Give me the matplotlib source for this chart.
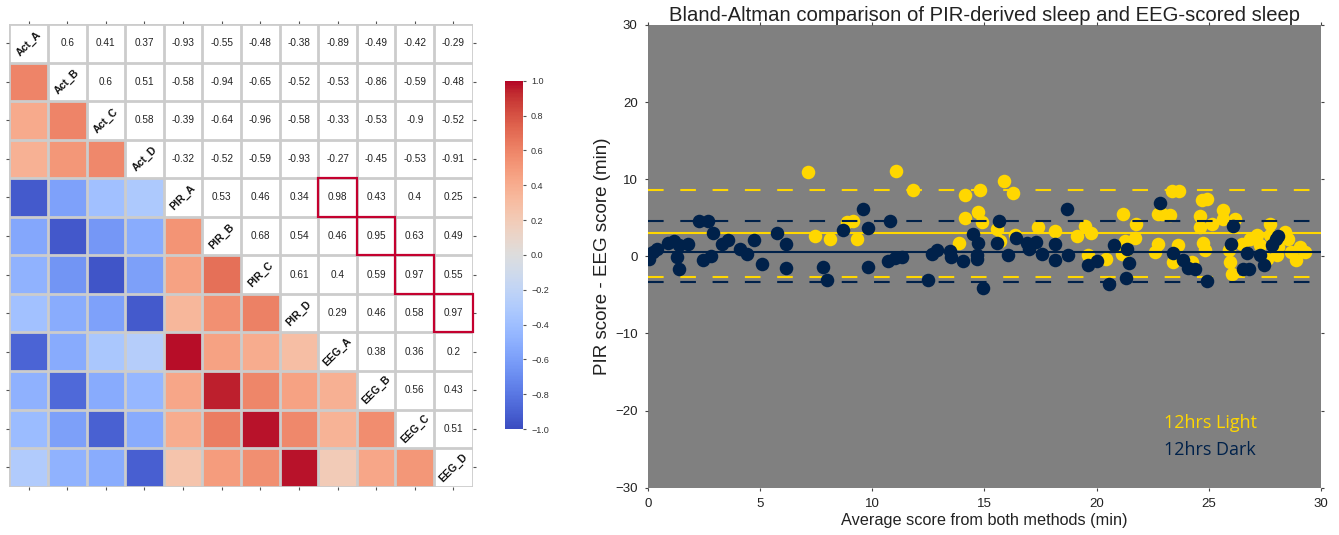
import numpy as np
import matplotlib
matplotlib.use("Agg")
import matplotlib.pyplot as plt
from matplotlib.patches import Rectangle

plt.rcParams['font.family'] = ['Liberation Sans', 'DejaVu Sans']

# ---------------- data: correlation matrix ----------------
labels = ["Act_A", "Act_B", "Act_C", "Act_D", "PIR_A", "PIR_B", "PIR_C", "PIR_D",
          "EEG_A", "EEG_B", "EEG_C", "EEG_D"]
# upper-triangle values per row (columns to the right of the diagonal)
upper_act_a = [0.6, 0.41, 0.37, -0.93, -0.55, -0.48, -0.38, -0.89, -0.49, -0.42, -0.29]
upper_act_b = [0.6, 0.51, -0.58, -0.94, -0.65, -0.52, -0.53, -0.86, -0.59, -0.48]
upper_act_c = [0.58, -0.39, -0.64, -0.96, -0.58, -0.33, -0.53, -0.9, -0.52]
upper_act_d = [-0.32, -0.52, -0.59, -0.93, -0.27, -0.45, -0.53, -0.91]
upper_pir_a = [0.53, 0.46, 0.34, 0.98, 0.43, 0.4, 0.25]
upper_pir_b = [0.68, 0.54, 0.46, 0.95, 0.63, 0.49]
upper_pir_c = [0.61, 0.4, 0.59, 0.97, 0.55]
upper_pir_d = [0.29, 0.46, 0.58, 0.97]
upper_eeg_a = [0.38, 0.36, 0.2]
upper_eeg_b = [0.56, 0.43]
upper_eeg_c = [0.51]
upper_rows = [upper_act_a, upper_act_b, upper_act_c, upper_act_d, upper_pir_a, upper_pir_b,
              upper_pir_c, upper_pir_d, upper_eeg_a, upper_eeg_b, upper_eeg_c, []]
highlight_pairs = [("PIR_A", "EEG_A"), ("PIR_B", "EEG_B"), ("PIR_C", "EEG_C"), ("PIR_D", "EEG_D")]
cbar_ticks = [-1.0, -0.8, -0.6, -0.4, -0.2, 0.0, 0.2, 0.4, 0.6, 0.8, 1.0]

# ---------------- data: Bland-Altman ----------------
light_x = [7.15, 7.45, 8.11, 8.86, 9.15, 9.30, 11.06, 11.83, 13.88, 14.13, 14.13, 14.73, 14.8,
           14.88, 15.57, 15.69, 15.89, 16.29, 16.36, 17.4, 18.15, 19.14, 19.48, 19.73, 19.63,
           20.42, 21.16, 21.76, 21.71, 21.27, 21.12, 22.75, 22.75, 22.6, 23.35, 23.65, 24.69,
           24.91, 22.9, 23.27, 24.6, 24.6, 25.13, 25.65, 25.62, 26.17, 27.73, 27.14, 28.4,
           23.64, 24.76, 24.83, 23.4, 24.24, 25.95, 26.02, 25.9, 26.46, 26.84, 27.29, 27.58,
           27.73, 28.09, 28.53, 28.68, 29.05, 28.9, 29.28, 28.03, 21.3]
light_y = [10.95, 2.6, 2.2, 4.46, 4.63, 2.2, 11.08, 8.6, 1.78, 7.92, 4.98, 5.76, 8.6,
           4.46, 3.5, 1.95, 9.78, 8.27, 2.73, 3.81, 3.25, 2.6, 3.94, 3.07, 0.22,
           -0.3, 5.54, 4.24, 2.43, 1.99, 0.35, 5.54, 1.65, 0.56, 8.45, 8.45, 7.27,
           7.49, 5.5, 5.41, 5.24, 3.81, 4.24, 5.97, 4.89, 4.89, 4.24, 2.73, 3.16,
           1.43, 1.78, 0.78, -0.74, -0.74, -0.74, -2.25, 0.78, 1.65, 2.3, 1.43, -0.3,
           2.73, 1.21, 2.3, 0.56, 1.21, -0.52, 0.56, 0.13, 0.8]
dark_x = [0.0, 0.05, 0.21, 0.42, 0.91, 1.16, 1.40, 1.31, 1.40, 1.80, 2.29, 2.66, 2.91, 2.47,
          2.81, 3.28, 3.58, 4.10, 4.43, 4.73, 5.07, 5.74, 6.14, 6.14, 7.82, 7.97, 8.71, 9.57,
          9.82, 9.82, 10.79, 10.71, 11.01, 11.31, 12.5, 12.65, 12.9, 13.46, 13.5, 14.06,
          14.47, 14.65, 14.65, 14.73, 14.95, 15.65, 15.55, 16.06, 16.41, 16.88, 17.0, 17.3,
          17.55, 18.15, 18.15, 18.69, 18.74, 19.63, 20.03, 20.57, 20.78, 21.34, 21.46, 21.31,
          22.83, 23.39, 23.87, 24.09, 24.39, 24.9, 25.97, 26.07, 26.54, 26.81, 26.72, 27.26,
          27.46, 27.8, 28.0, 28.1]
dark_y = [0.25, -0.3, 0.56, 1.0, 1.78, 1.95, 1.43, -0.09, -1.6, 1.56, 4.58, 4.58, 3.07, -0.43,
          0.0, 1.56, 2.08, 1.0, 0.35, 2.08, -0.95, 3.07, 1.6, -1.47, -1.43, -3.12, 3.38, 6.1,
          3.68, -1.38, 4.58, -0.6, -0.22, -0.09, -3.12, 0.26, 0.78, 0.65, -0.09, -0.56,
          2.9, 0.13, -0.4, 1.78, -4.1, 4.58, 1.78, 0.13, 2.43, 1.78, 0.91, 1.86,
          0.35, 1.56, -0.43, 6.1, 0.13, -1.08, -0.6, -3.55, 1.52, 1.0, -0.82, -2.77,
          6.97, 0.43, -0.52, -1.47, -1.69, -3.25, 1.56, 3.9, -1.6, -1.6, 0.43, 0.13,
          -1.08, 1.52, 2.2, 2.6]
light_mean, light_upper, light_lower = 2.99, 8.66, -2.69
dark_mean, dark_upper, dark_lower = 0.56, 4.58, -3.38

# ---------------- figure ----------------
fig = plt.figure(figsize=(13.39, 5.35), dpi=100)

# ----- correlation heatmap -----
n = len(labels)
corr = np.eye(n)
for i, row in enumerate(upper_rows):
    for k, v in enumerate(row):
        j = i + 1 + k
        corr[i, j] = v
        corr[j, i] = v

ax1 = fig.add_axes([0.00695, 0.0903, 0.3461, 0.8649])
lower = np.ma.masked_where(np.triu(np.ones((n, n), dtype=bool)), corr)
mesh = ax1.pcolormesh(np.arange(n + 1), np.arange(n + 1), lower, cmap='coolwarm',
                      vmin=-1, vmax=1, zorder=1)
ax1.set_xlim(0, n)
ax1.set_ylim(n, 0)
ax1.set_xticks(np.arange(n) + 0.5)
ax1.set_yticks(np.arange(n) + 0.5)
ax1.set_xticklabels([])
ax1.set_yticklabels([])
ax1.set_xticks(np.arange(n + 1), minor=True)
ax1.set_yticks(np.arange(n + 1), minor=True)
ax1.grid(which='minor', color='#cccccc', linewidth=2.0)
ax1.grid(which='major', visible=False)
ax1.tick_params(which='minor', length=0)
ax1.tick_params(which='major', length=2.2, width=0.8, color='#555555',
                top=True, right=True, bottom=True, left=True, direction='out')
for s in ax1.spines.values():
    s.set_visible(False)

for i in range(n):
    for j in range(n):
        if j > i:
            ax1.text(j + 0.5, i + 0.5, '{:g}'.format(corr[i, j]), ha='center', va='center',
                     fontsize=7.2, color='#222222', zorder=3)
        elif j == i:
            ax1.text(j + 0.5, i + 0.5, labels[i], ha='center', va='center', rotation=45,
                     fontsize=7.6, fontweight='bold', color='#111111', zorder=3)

for a, b in highlight_pairs:
    r = labels.index(a)
    c = labels.index(b)
    ax1.add_patch(Rectangle((c, r), 1, 1, fill=False, edgecolor='#c4002f',
                            linewidth=1.6, zorder=4, clip_on=False))

cax = fig.add_axes([0.3771, 0.1981, 0.0138, 0.651])
cb = fig.colorbar(mesh, cax=cax, ticks=cbar_ticks)
cb.outline.set_visible(False)
cb.ax.set_yticklabels(['{:.1f}'.format(t).replace('-', '\u2212') for t in cbar_ticks])
cb.ax.tick_params(labelsize=6.5, length=2, width=0.8, color='#555555', labelcolor='#333333')

# ----- Bland-Altman -----
ax2 = fig.add_axes([0.48395, 0.0884, 0.5026, 0.8649])
ax2.set_facecolor('#808080')
yellow = '#ffd700'
navy = '#00214a'
ax2.scatter(light_x, light_y, s=95, color=yellow, linewidths=0, zorder=2)
ax2.axhline(light_mean, color=yellow, lw=1.5, zorder=3)
ax2.axhline(light_upper, color=yellow, lw=1.5, ls=(0, (7.5, 8.0)), zorder=3)
ax2.axhline(light_lower, color=yellow, lw=1.5, ls=(0, (7.5, 8.0)), zorder=3)
ax2.axhline(dark_mean, color=navy, lw=1.5, zorder=3)
ax2.axhline(dark_upper, color=navy, lw=1.5, ls=(0, (7.5, 8.0)), zorder=3)
ax2.axhline(dark_lower, color=navy, lw=1.5, ls=(0, (7.5, 8.0)), zorder=3)
ax2.scatter(dark_x, dark_y, s=95, color=navy, linewidths=0, zorder=4)

ax2.set_xlim(0, 30)
ax2.set_ylim(-30, 30)
ax2.set_xticks([0, 5, 10, 15, 20, 25, 30])
ax2.set_yticks([-30, -20, -10, 0, 10, 20, 30])
for s in ax2.spines.values():
    s.set_visible(False)
ax2.tick_params(direction='out', length=2.5, width=0.8, color='#444444', labelsize=9.5,
                labelcolor='#222222', top=True, right=True, pad=5)
ax2.set_title('Bland-Altman comparison of PIR-derived sleep and EEG-scored sleep',
              fontsize=14.6, color='#222222', pad=3)
ax2.set_xlabel('Average score from both methods (min)', fontsize=11.7, color='#222222', labelpad=2)
ax2.set_ylabel('PIR score - EEG score (min)', fontsize=13.5, color='#222222', labelpad=3)

ax2.text(0.766, 0.14, '12hrs Light', transform=ax2.transAxes, color=yellow,
         fontsize=13, family=['Open Sans', 'DejaVu Sans'], ha='left', va='center')
ax2.text(0.766, 0.081, '12hrs Dark', transform=ax2.transAxes, color=navy,
         fontsize=13, family=['Open Sans', 'DejaVu Sans'], ha='left', va='center')

fig.savefig('out.png', dpi=100)
